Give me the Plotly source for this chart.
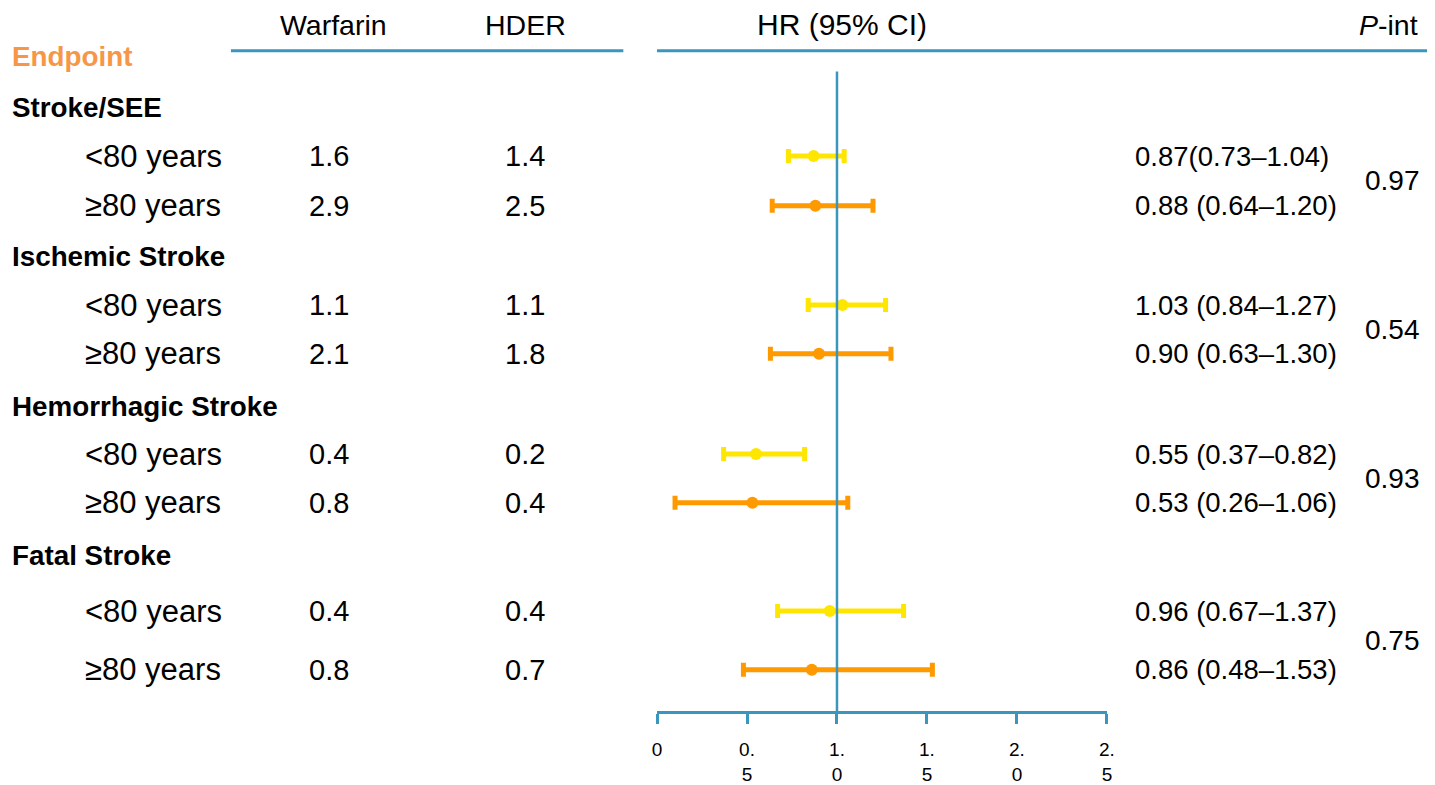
import plotly.graph_objects as go

# ---------------- data ----------------
groups = ["Stroke/SEE", "Ischemic Stroke", "Hemorrhagic Stroke", "Fatal Stroke"]
subgroups = ["<80 years", "≥80 years"]
warfarin = ["1.6", "2.9", "1.1", "2.1", "0.4", "0.8", "0.4", "0.8"]
hder = ["1.4", "2.5", "1.1", "1.8", "0.2", "0.4", "0.4", "0.7"]
hr = [0.87, 0.88, 1.03, 0.90, 0.55, 0.53, 0.96, 0.86]
ci_low_drawn = [0.73, 0.64, 0.84, 0.63, 0.37, 0.10, 0.67, 0.48]
ci_high_drawn = [1.04, 1.20, 1.27, 1.30, 0.82, 1.06, 1.37, 1.53]
hr_text = ["0.87(0.73–1.04)", "0.88 (0.64–1.20)", "1.03 (0.84–1.27)", "0.90 (0.63–1.30)",
           "0.55 (0.37–0.82)", "0.53 (0.26–1.06)", "0.96 (0.67–1.37)", "0.86 (0.48–1.53)"]
p_int = ["0.97", "0.54", "0.93", "0.75"]
tick_vals = [0, 0.5, 1.0, 1.5, 2.0, 2.5]
tick_text = ["0", "0.<br>5", "1.<br>0", "1.<br>5", "2.<br>0", "2.<br>5"]

# ---------------- layout (pixel positions) ----------------
W, H = 1435, 785
group_y = [108, 258, 409, 559]
row_y = [157, 207, 307, 356, 457, 506, 615, 674]
BLUE = "#3A96BC"
YELLOW = "#FFE600"
ORANGE = "#FF9900"
FONT = "Liberation Sans, Arial, sans-serif"

fig = go.Figure()

colors = [YELLOW, ORANGE]
for k in range(2):
    idx = [i for i in range(len(hr)) if i % 2 == k]
    fig.add_trace(go.Scatter(
        x=[hr[i] for i in idx],
        y=[row_y[i] for i in idx],
        mode="markers",
        marker=dict(size=12, color=colors[k]),
        error_x=dict(type="data", symmetric=False,
                     array=[ci_high_drawn[i] - hr[i] for i in idx],
                     arrayminus=[hr[i] - ci_low_drawn[i] for i in idx],
                     color=colors[k], thickness=5, width=7),
        showlegend=False, hoverinfo="skip",
    ))

fig.update_layout(
    width=W, height=H,
    margin=dict(l=0, r=0, t=0, b=0),
    paper_bgcolor="white", plot_bgcolor="white",
    font=dict(family=FONT, size=27, color="black"),
    xaxis=dict(domain=[658 / W, 1112 / W], range=[0, 2.5], anchor="free",
               position=(H - 717) / H,
               showline=True, linecolor=BLUE, linewidth=3,
               ticks="outside", tickcolor=BLUE, tickwidth=3, ticklen=10,
               tickvals=tick_vals, ticktext=tick_text,
               tickfont=dict(size=19, color="black", family=FONT),
               ticklabelstandoff=9,
               showgrid=False, zeroline=False, fixedrange=True),
    yaxis=dict(domain=[0, 1], range=[H, 0], visible=False, fixedrange=True),
)

# vertical reference line at HR = 1
fig.add_shape(type="line", xref="x", yref="y", x0=1, x1=1, y0=72, y1=717,
              line=dict(color=BLUE, width=2.5))
# header lines
fig.add_shape(type="line", xref="paper", yref="y", x0=228 / W, x1=624 / W, y0=51, y1=51,
              line=dict(color=BLUE, width=3))
fig.add_shape(type="line", xref="paper", yref="y", x0=658 / W, x1=1, y0=51, y1=51,
              line=dict(color=BLUE, width=3))


def txt(x, y, s, xanchor="left", size=27, color="black", bold=False):
    if bold:
        s = "<b>" + s + "</b>"
    fig.add_annotation(x=x / W, y=y, xref="paper", yref="y", text=s, showarrow=False,
                       xanchor=xanchor, yanchor="middle",
                       font=dict(size=size, color=color, family=FONT))


# headers
txt(331, 25, "Warfarin", "center", size=28.5)
txt(525, 25, "HDER", "center", size=28.5)
txt(845, 25, "HR (95% CI)", "center", size=30)
txt(1428, 25, "<i>P</i>-int", "right", size=28.5)
txt(5, 57, "Endpoint", bold=True, color="#F79646", size=27.8)

for g, gy in zip(groups, group_y):
    txt(5, gy, g, bold=True, size=27.8)

for i, ry in enumerate(row_y):
    txt(79, ry, subgroups[i % 2], size=31)
    txt(327, ry, warfarin[i], "center", size=29)
    txt(525, ry, hder[i], "center", size=29)
    txt(1138, ry, hr_text[i], size=27.5)

for j, p in enumerate(p_int):
    txt(1400, (row_y[2 * j] + row_y[2 * j + 1]) / 2, p, "center", size=28)

post = ("document.documentElement.style.margin='0';"
        "document.documentElement.style.overflow='hidden';"
        "document.body.style.margin='0';document.body.style.padding='0';"
        "document.body.style.overflow='hidden';"
        "var d=document.getElementById('{plot_id}');"
        "d.style.position='fixed';d.style.left='0px';d.style.top='0px';")
fig.write_html("out.html", post_script=post)
